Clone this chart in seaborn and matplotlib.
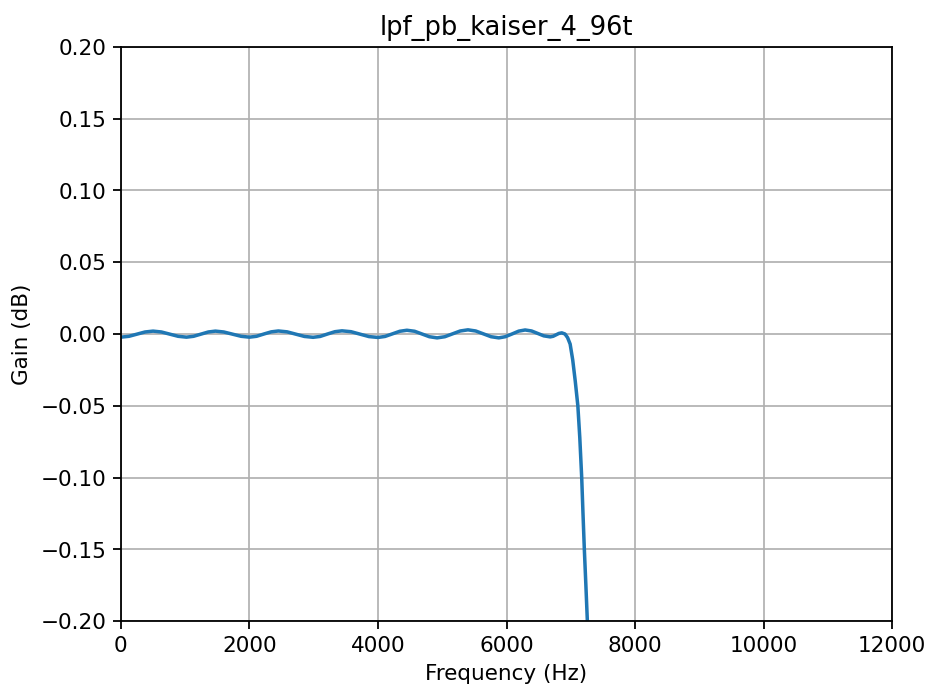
import numpy as np
import pandas as pd
import seaborn as sns
import matplotlib
matplotlib.use('Agg')
import matplotlib.pyplot as plt

TITLE = 'lpf_pb_kaiser_4_96t'

# passband ripple and start of the roll-off
freq_hz = [
    0, 125, 250, 375, 500, 630, 760, 890, 1020, 1130, 1245, 1360, 1470,
    1600, 1735, 1870, 2000, 2110, 2225, 2340, 2450, 2585, 2720, 2855, 2990,
    3100, 3215, 3330, 3440, 3580, 3720, 3860, 4000, 4110, 4225, 4340, 4450,
    4570, 4685, 4800, 4920, 5040, 5160, 5280, 5400, 5520, 5640, 5760, 5880,
    5980, 6085, 6190, 6290, 6390, 6485, 6580, 6680, 6725, 6770, 6815, 6860,
    6910, 6950, 6990, 7030, 7070, 7110, 7140, 7170, 7190, 7211, 7235, 7258,
    7290,
]
gain_db = [
    -0.0022, -0.0016, -0.0001, 0.0014, 0.0020, 0.0014, -0.0001, -0.0016,
    -0.0022, -0.0016, -0.0001, 0.0014, 0.0020, 0.0014, -0.0001, -0.0016,
    -0.0022, -0.0016, 0.0000, 0.0015, 0.0021, 0.0015, -0.0001, -0.0017,
    -0.0023, -0.0017, 0.0000, 0.0016, 0.0022, 0.0016, -0.0001, -0.0018,
    -0.0024, -0.0017, 0.0001, 0.0019, 0.0026, 0.0019, 0.0000, -0.0019,
    -0.0027, -0.0019, 0.0001, 0.0021, 0.0029, 0.0021, 0.0001, -0.0019,
    -0.0027, -0.0019, 0.0000, 0.0020, 0.0028, 0.0021, 0.0004, -0.0013,
    -0.0020, -0.0016, -0.0006, 0.0004, 0.0008,
    0.0000, -0.0025, -0.0070, -0.0180, -0.0330, -0.0500, -0.0720, -0.1000,
    -0.1250, -0.1500, -0.1750, -0.2000, -0.2400,
]

FONT = 10.75


def main():
    df = pd.DataFrame({'Frequency (Hz)': freq_hz, 'Gain (dB)': gain_db})

    fig, ax = plt.subplots(figsize=(6.46, 4.8), dpi=144)
    fig.subplots_adjust(left=0.130, right=0.959, top=0.932, bottom=0.101)

    sns.lineplot(data=df, x='Frequency (Hz)', y='Gain (dB)', ax=ax,
                 color='#1f77b4', linewidth=1.75)

    ax.set_xlim(0, 12000)
    ax.set_ylim(-0.2, 0.2)
    ax.set_yticks(np.arange(-0.2, 0.201, 0.05))
    ax.grid(True, color='#b0b0b0', linewidth=0.85)
    ax.set_axisbelow(True)
    ax.tick_params(labelsize=FONT, length=3.8, width=0.9)
    ax.set_xlabel('Frequency (Hz)', fontsize=FONT)
    ax.set_ylabel('Gain (dB)', fontsize=FONT)
    ax.set_title(TITLE, fontsize=12.9)
    for spine in ax.spines.values():
        spine.set_linewidth(0.9)

    fig.savefig('out.png', dpi=144)


if __name__ == '__main__':
    main()
